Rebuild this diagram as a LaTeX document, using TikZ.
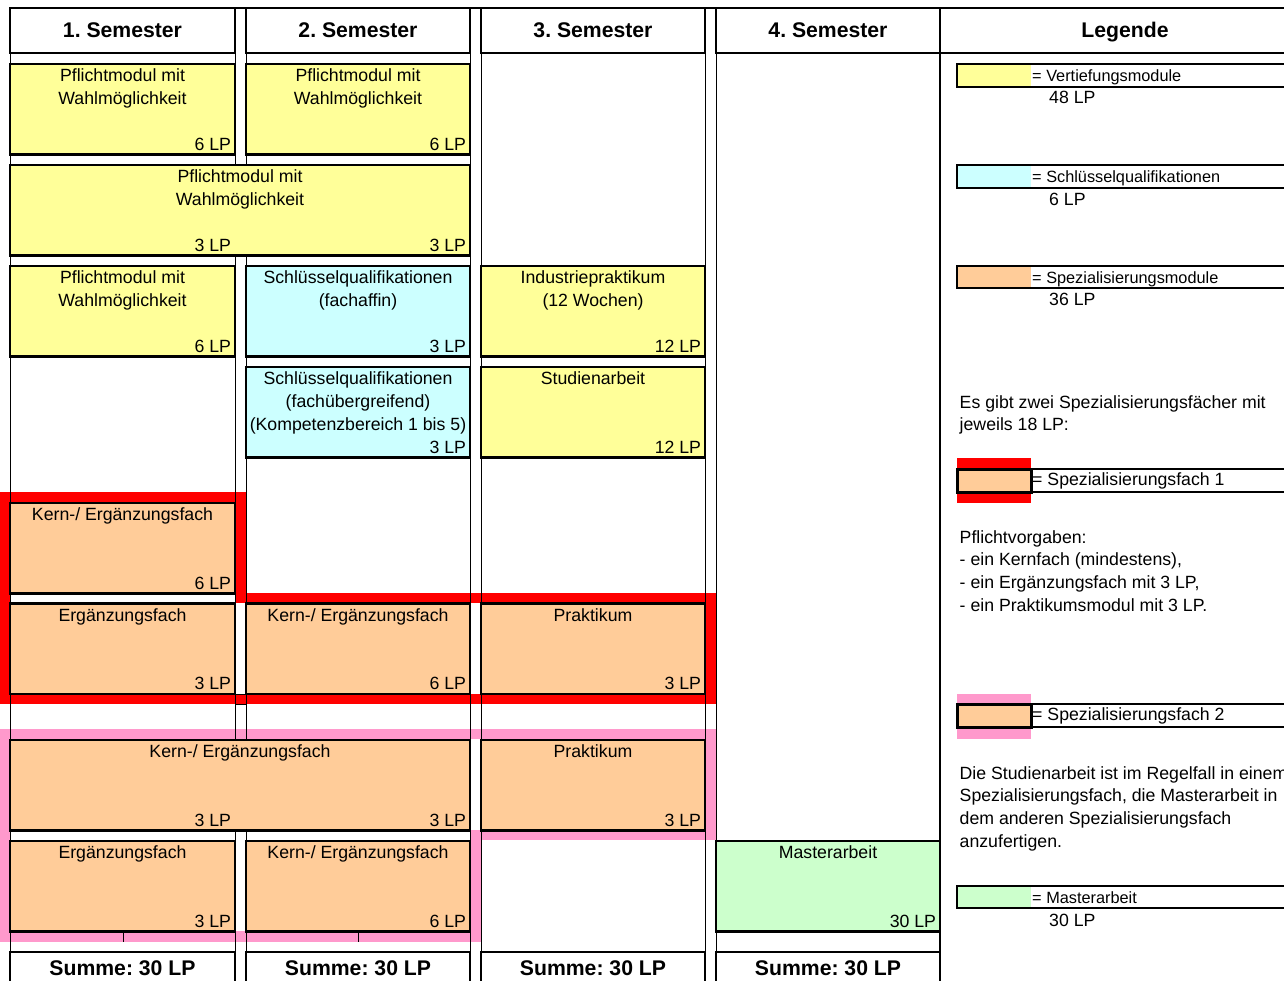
\documentclass[tikz,border=0pt]{standalone}
\usepackage{fontspec}
\setmainfont{Liberation Sans}
\usetikzlibrary{positioning}
\frenchspacing

\definecolor{vertief}{RGB}{255,255,153}
\definecolor{schluessel}{RGB}{204,255,255}
\definecolor{spez}{RGB}{255,204,153}
\definecolor{master}{RGB}{204,255,204}
\definecolor{spezeins}{RGB}{255,0,0}
\definecolor{spezzwei}{RGB}{255,153,204}

\newcommand{\normalschrift}{\fontsize{17.7}{22.7}\selectfont}
\newcommand{\kleinschrift}{\fontsize{16.3}{20}\selectfont}
\newcommand{\kopfschrift}{\fontsize{21.2}{25}\selectfont\bfseries}

\tikzset{
  gitter/.style={line width=0.9pt},
  band/.style={line width=10.5pt},
  modul/.style={draw, line width=2.3pt, outer sep=0pt, inner sep=0pt,
    anchor=north west, minimum height=90.5pt},
  titel/.style={anchor=north, align=center, inner xsep=0pt, inner ysep=5pt,
    outer sep=0pt, font=\normalschrift},
  lp/.style={anchor=south east, inner sep=4pt, outer sep=0pt, font=\normalschrift},
  kopf/.style={draw, line width=2.2pt, outer sep=0pt, anchor=north west,
    minimum height=45pt, text height=15.5pt, text depth=1pt, font=\kopfschrift},
  summe/.style={draw, line width=2.2pt, outer sep=0pt, anchor=north west,
    inner ysep=7pt, text height=16pt, text depth=20pt, font=\kopfschrift},
  swatch/.style={outer sep=0pt, inner sep=0pt, anchor=north west,
    minimum width=74pt, minimum height=23pt},
  rahmen/.style={draw, line width=2.4pt, outer sep=0pt, inner sep=0pt,
    anchor=north west, minimum height=23pt, minimum width=360pt},
  legtext/.style={inner xsep=1pt, inner ysep=0pt, text height=14.6pt,
    text depth=2pt, font=\kleinschrift},
  spezlegtext/.style={inner xsep=1pt, inner ysep=0pt, text height=11pt,
    text depth=2pt, font=\normalschrift},
  lptext/.style={anchor=base west, inner sep=0pt, font=\normalschrift},
  block/.style={anchor=north west, align=left, inner sep=0pt, font=\normalschrift},
}

\begin{document}
\begin{tikzpicture}[x=1pt, y=-1pt]
  \useasboundingbox (0,0) rectangle (1284,980);
  \clip (0,0) rectangle (1284,980);

  % Spezialisierungsfach 1 und 2
  \draw[band, draw=spezeins] (5,497.5) -- (240.5,497.5) -- (240.5,598) -- (710.5,598)
    -- (710.5,699) -- (5,699) -- cycle;
  \draw[band, draw=spezzwei] (5,734) -- (710.5,734) -- (710.5,835) -- (475.5,835)
    -- (475.5,936.5) -- (5,936.5) -- cycle;

  % Raster
  \foreach \x in {10,235,246,470,481,705,716}
    \draw[gitter] (\x,8) -- (\x,990);
  \draw[gitter] (235,694) rectangle (246,704.5);
  \draw[gitter] (123,931) -- (123,942) (358,931) -- (358,942);
  \draw[line width=2.2pt] (940,8) -- (940,990);
  \draw[line width=2.2pt] (10,8) -- (1284,8);

  % Kopfzeile
  \node (k1) [kopf, minimum width=225pt] at (10,8) {1. Semester};
  \node (k2) [kopf, minimum width=224pt] at (246,8) {2. Semester};
  \node (k3) [kopf, minimum width=224pt] at (481,8) {3. Semester};
  \node (k4) [kopf, minimum width=224pt] at (716,8) {4. Semester};
  \node (k5) [kopf, minimum width=370pt] at (940,8) {Legende};

  % Vertiefung und Schluesselqualifikationen
  \node (a1) [modul, fill=vertief, minimum width=225pt,
    label={[titel]north:Pflichtmodul mit\\Wahlmöglichkeit},
    label={[lp]south east:6 LP}] at (10,64) {};
  \node (a2) [modul, fill=vertief, minimum width=224pt,
    label={[titel]north:Pflichtmodul mit\\Wahlmöglichkeit},
    label={[lp]south east:6 LP}] at (246,64) {};
  \node (b1) [modul, fill=vertief, minimum width=460pt,
    label={[titel]north:Pflichtmodul mit\\Wahlmöglichkeit},
    label={[lp]south east:3 LP},
    label={[lp, xshift=-235pt]south east:3 LP}] at (10,165) {};
  \node (c1) [modul, fill=vertief, minimum width=225pt,
    label={[titel]north:Pflichtmodul mit\\Wahlmöglichkeit},
    label={[lp]south east:6 LP}] at (10,266) {};
  \node (c2) [modul, fill=schluessel, minimum width=224pt,
    label={[titel]north:Schlüsselqualifikationen\\(fachaffin)},
    label={[lp]south east:3 LP}] at (246,266) {};
  \node (c3) [modul, fill=vertief, minimum width=224pt,
    label={[titel]north:Industriepraktikum\\(12 Wochen)},
    label={[lp]south east:12 LP}] at (481,266) {};
  \node (d2) [modul, fill=schluessel, minimum width=224pt,
    label={[titel]north:Schlüsselqualifikationen\\(fachübergreifend)\\(Kompetenzbereich 1 bis 5)},
    label={[lp]south east:3 LP}] at (246,367) {};
  \node (d3) [modul, fill=vertief, minimum width=224pt,
    label={[titel]north:Studienarbeit},
    label={[lp]south east:12 LP}] at (481,367) {};

  % Spezialisierungsfach 1
  \node (e1) [modul, fill=spez, minimum width=225pt,
    label={[titel]north:Kern-/ Ergänzungsfach},
    label={[lp]south east:6 LP}] at (10,503) {};
  \node (f1) [modul, fill=spez, minimum width=225pt,
    label={[titel]north:Ergänzungsfach},
    label={[lp]south east:3 LP}] at (10,603.5) {};
  \node (f2) [modul, fill=spez, minimum width=224pt,
    label={[titel]north:Kern-/ Ergänzungsfach},
    label={[lp]south east:6 LP}] at (246,603.5) {};
  \node (f3) [modul, fill=spez, minimum width=224pt,
    label={[titel]north:Praktikum},
    label={[lp]south east:3 LP}] at (481,603.5) {};

  % Spezialisierungsfach 2
  \node (g1) [modul, fill=spez, minimum width=460pt,
    label={[titel]north:Kern-/ Ergänzungsfach},
    label={[lp]south east:3 LP},
    label={[lp, xshift=-235pt]south east:3 LP}] at (10,740) {};
  \node (g3) [modul, fill=spez, minimum width=224pt,
    label={[titel]north:Praktikum},
    label={[lp]south east:3 LP}] at (481,740) {};
  \node (h1) [modul, fill=spez, minimum width=225pt,
    label={[titel]north:Ergänzungsfach},
    label={[lp]south east:3 LP}] at (10,841) {};
  \node (h2) [modul, fill=spez, minimum width=224pt,
    label={[titel]north:Kern-/ Ergänzungsfach},
    label={[lp]south east:6 LP}] at (246,841) {};
  \node (h4) [modul, fill=master, minimum width=224pt,
    label={[titel]north:Masterarbeit},
    label={[lp]south east:30 LP}] at (716,841) {};

  % Summen
  \node (s1) [summe, minimum width=225pt] at (10,952) {Summe: 30 LP};
  \node (s2) [summe, minimum width=224pt] at (246,952) {Summe: 30 LP};
  \node (s3) [summe, minimum width=224pt] at (481,952) {Summe: 30 LP};
  \node (s4) [summe, minimum width=224pt] at (716,952) {Summe: 30 LP};

  % Legende
  \node (fv) [swatch, fill=vertief] at (957,64) {};
  \node (rv) [rahmen] at (957,64) {};
  \node (tv) [legtext, right=0pt of fv] {= Vertiefungsmodule};
  \node (pv) [lptext] at (1049,103) {48 LP};

  \node (fs) [swatch, fill=schluessel] at (957,165) {};
  \node (rs) [rahmen] at (957,165) {};
  \node (ts) [legtext, right=0pt of fs] {= Schlüsselqualifikationen};
  \node (ps) [lptext] at (1049,205) {6 LP};

  \node (fo) [swatch, fill=spez, minimum height=22pt] at (957,266) {};
  \node (ro) [rahmen, minimum height=22pt] at (957,266) {};
  \node (to) [legtext, right=0pt of fo] {= Spezialisierungsmodule};
  \node (po) [lptext] at (1049,305.5) {36 LP};

  \node (zwei) [block] at (959.5,395) {Es gibt zwei Spezialisierungsfächer mit\\jeweils 18 LP:};

  \node (be) [swatch, fill=spezeins, minimum height=45pt] at (957,458) {};
  \node (fe) [swatch, fill=spez, draw, line width=3pt] at (957,469) {};
  \node (re) [rahmen, minimum width=290pt] at (1031,469) {};
  \node (te) [spezlegtext, right=0pt of fe] {= Spezialisierungsfach 1};

  \node (pflicht) [block] at (959.5,530) {Pflichtvorgaben:\\- ein Kernfach (mindestens),\\- ein Ergänzungsfach mit 3 LP,\\- ein Praktikumsmodul mit 3 LP.};

  \node (bz) [swatch, fill=spezzwei, minimum height=45pt] at (957,694) {};
  \node (fz) [swatch, fill=spez, draw, line width=3pt] at (957,704) {};
  \node (rz) [rahmen, minimum width=290pt] at (1031,704) {};
  \node (tz) [spezlegtext, right=0pt of fz] {= Spezialisierungsfach 2};

  \node (studien) [block] at (959.5,766) {Die Studienarbeit ist im Regelfall in einem\\Spezialisierungsfach, die Masterarbeit in\\dem anderen Spezialisierungsfach\\anzufertigen.};

  \node (fm) [swatch, fill=master, minimum height=22pt] at (957,886) {};
  \node (rm) [rahmen, minimum height=22pt] at (957,886) {};
  \node (tm) [legtext, right=0pt of fm] {= Masterarbeit};
  \node (pm) [lptext] at (1049,926) {30 LP};
\end{tikzpicture}
\end{document}
